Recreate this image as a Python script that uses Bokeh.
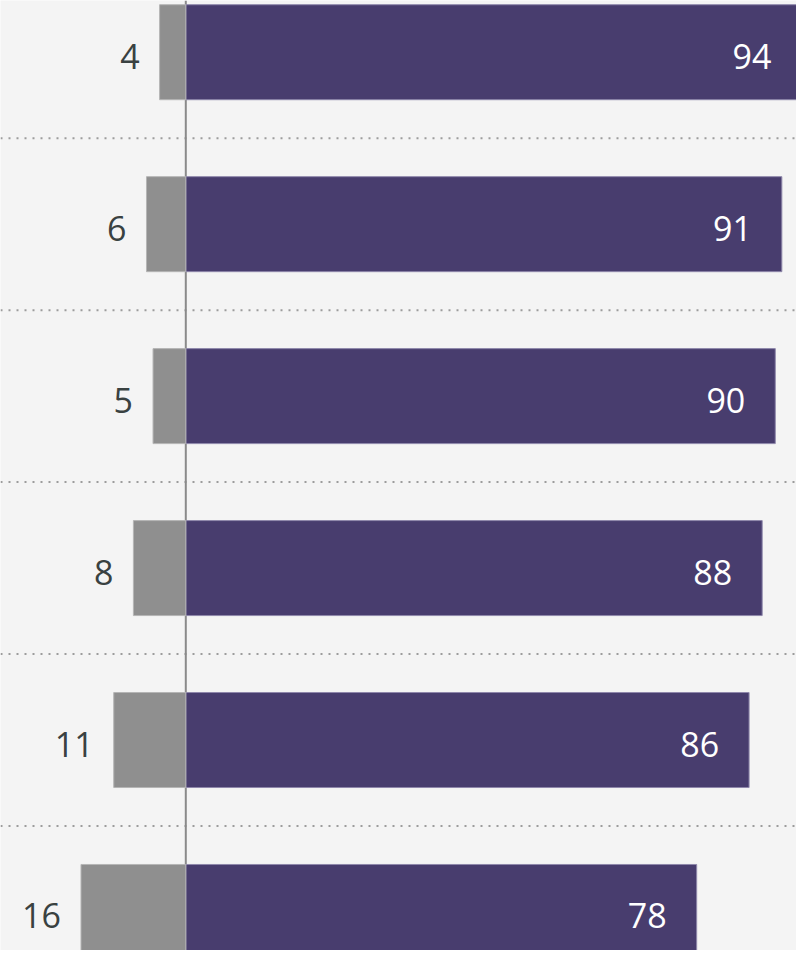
from bokeh.plotting import figure
from bokeh.models import Range1d, ColumnDataSource, Span
from bokeh.core.properties import value
from bokeh.embed import file_html
from bokeh.resources import INLINE

# Data (top to bottom)
rows = [0, 1, 2, 3, 4, 5]
negative = [4, 6, 5, 8, 11, 16]
positive = [94, 91, 90, 88, 86, 78]
neg_labels = [str(v) for v in negative]
pos_labels = [str(v) for v in positive]

BG = "#f4f4f4"
PURPLE = "#483d6e"
GREY = "#8f8f8f"

src = ColumnDataSource(dict(
    y=rows,
    neg=[-v for v in negative],
    pos=positive,
    neg_lbl=neg_labels,
    pos_lbl=pos_labels,
))

p = figure(width=796, height=950, output_backend="svg", toolbar_location=None,
           x_range=Range1d(-28.29, 93.24), y_range=Range1d(5.224, -0.3007),
           min_border=0, background_fill_color=BG, border_fill_color=BG,
           outline_line_color=None)
p.axis.visible = False
p.grid.visible = False

# dotted separators between rows
for k in rows[:-1]:
    p.add_layout(Span(location=k + 0.5, dimension="width", line_color="#9c9c9c",
                      line_width=2, line_dash="2 6", level="underlay"))

# zero line
p.add_layout(Span(location=0, dimension="height", line_color="#8a8a8a",
                  line_width=2, level="underlay"))

bh = 0.5525
p.hbar(y="y", left=0, right="pos", height=bh, source=src, fill_color=PURPLE,
       line_color="#8f88ab", line_width=1)
p.hbar(y="y", left="neg", right=0, height=bh, source=src, fill_color=GREY,
       line_color="#b5b5b5", line_width=1)

p.text(x="pos", y="y", text="pos_lbl", source=src, text_align="right",
       text_baseline="middle", x_offset=-30, y_offset=4,
       text_font=value("Open Sans"), text_font_size="34px", text_color="white")
p.text(x="neg", y="y", text="neg_lbl", source=src, text_align="right",
       text_baseline="middle", x_offset=-20, y_offset=4,
       text_font=value("Open Sans"), text_font_size="34px", text_color="#394141")

open("out.html", "w").write(file_html(p, INLINE))
